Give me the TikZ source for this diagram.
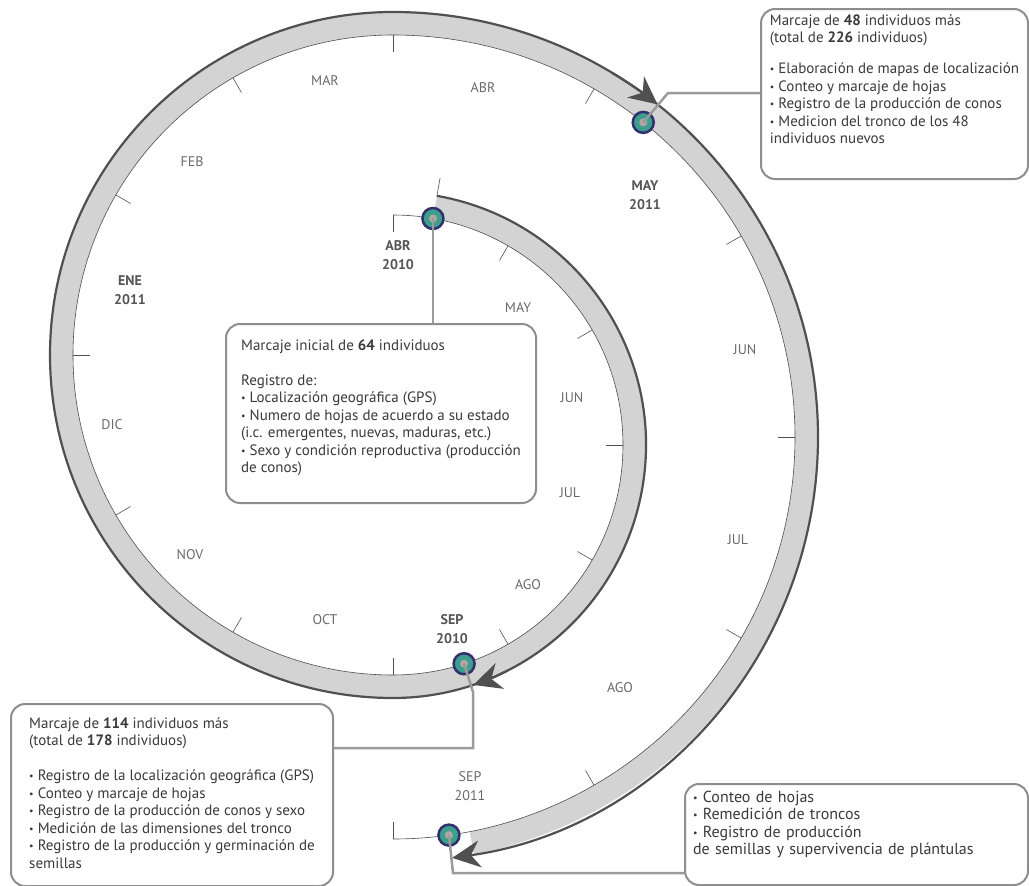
\documentclass[tikz,border=0pt]{standalone}
\usepackage{fontspec}
\setmainfont{PT Sans}
\usetikzlibrary{calc,arrows.meta}
\definecolor{bandgris}{HTML}{D3D3D3}
\definecolor{bordeosc}{HTML}{505050}
\definecolor{lineagris}{HTML}{9B9B9B}
\definecolor{marcogris}{HTML}{8E8E8E}
\definecolor{textogris}{HTML}{3A3A3A}
\definecolor{mesgris}{HTML}{6A6A6A}
\definecolor{mesfuerte}{HTML}{555555}
\definecolor{anillo}{HTML}{33306E}
\definecolor{verdeazul}{HTML}{3E9E8E}
\definecolor{centro}{HTML}{B3A6A6}
\newcommand{\bul}{\raisebox{0.9pt}{\fontsize{10}{10}\selectfont\textbullet}\ }
\newcommand{\arriba}[1]{\rule{0pt}{#1pt}}
\newcommand{\abajo}[1]{\rule[-#1pt]{0pt}{#1pt}}
\begin{document}
\begin{tikzpicture}[x=1pt,y=1pt,
every node/.style={font=\fontsize{14}{17.5}\selectfont},
banda/.style={fill=bandgris},
bordeint/.style={draw=bordeosc,line width=0.6pt},
marca/.style={draw=bordeosc,line width=0.6pt},
punta/.style={draw=bordeosc,line width=2.2pt,-{Stealth[length=28pt,width=27pt,inset=9pt]}},
evento/.style={circle,draw=anillo,line width=2.5pt,fill=verdeazul,minimum size=21pt,inner sep=0pt,path picture={\fill[centro] (path picture bounding box.center) circle (4pt);}},
enlace/.style={draw=lineagris,line width=2.5pt},
caja/.style={draw=marcogris,line width=2pt,rounded corners=14pt,fill=white,align=left,text=textogris,inner xsep=8pt,inner ysep=5pt,anchor=north west,font=\fontsize{15}{17.5}\selectfont},
mes/.style={text=mesgris},
mesb/.style={text=mesfuerte,font=\fontsize{14}{18.5}\selectfont\bfseries,align=center}]
\useasboundingbox (0,0) rectangle (1029,-886);
\coordinate (A) at (393,-445);
\coordinate (B) at (393,-355);
\coordinate (C) at (393,-437);

\fill[banda] ($(A)+(80:253)$) arc[start angle=80,end angle=-90,radius=253] arc[start angle=-90,end angle=-270,radius=343] arc[start angle=90,end angle=-79,radius=425] -- ($(C)+(-79:402)$) arc[start angle=-79,end angle=90,radius=402] arc[start angle=90,end angle=270,radius=320] arc[start angle=-90,end angle=80,radius=230] -- cycle;

\draw[bordeint] ($(C)+(-90:402)$) arc[start angle=-90,end angle=90,radius=402] arc[start angle=90,end angle=270,radius=320] arc[start angle=-90,end angle=90,radius=230];

\draw[marca] ($(A)+(90:230)$) -- ($(A)+(90:213)$);
\draw[marca] ($(A)+(60:230)$) -- ($(A)+(60:213)$);
\draw[marca] ($(A)+(30:230)$) -- ($(A)+(30:213)$);
\draw[marca] ($(A)+(0:230)$) -- ($(A)+(0:213)$);
\draw[marca] ($(A)+(-30:230)$) -- ($(A)+(-30:213)$);
\draw[marca] ($(A)+(-60:230)$) -- ($(A)+(-60:213)$);
\draw[marca] ($(A)+(-90:230)$) -- ($(A)+(-90:213)$);
\draw[marca] ($(B)+(90:320)$) -- ($(B)+(90:303)$);
\draw[marca] ($(B)+(120:320)$) -- ($(B)+(120:303)$);
\draw[marca] ($(B)+(150:320)$) -- ($(B)+(150:303)$);
\draw[marca] ($(B)+(180:320)$) -- ($(B)+(180:303)$);
\draw[marca] ($(B)+(210:320)$) -- ($(B)+(210:303)$);
\draw[marca] ($(B)+(240:320)$) -- ($(B)+(240:303)$);
\draw[marca] ($(C)+(60:402)$) -- ($(C)+(60:385)$);
\draw[marca] ($(C)+(30:402)$) -- ($(C)+(30:385)$);
\draw[marca] ($(C)+(0:402)$) -- ($(C)+(0:385)$);
\draw[marca] ($(C)+(-30:402)$) -- ($(C)+(-30:385)$);
\draw[marca] ($(C)+(-60:402)$) -- ($(C)+(-60:385)$);
\draw[marca] ($(C)+(-90:402)$) -- ($(C)+(-90:385)$);
\draw[marca] ($(A)+(80:253)$) -- ($(A)+(80:271)$);

\draw[punta] ($(A)+(80:253)$) arc[start angle=80,end angle=-90,radius=253] arc[start angle=-90,end angle=-270,radius=343] arc[start angle=90,end angle=-82,radius=425];
\draw[punta] ($(A)+(-63:253)$) arc[start angle=-63,end angle=-71.5,radius=253];
\draw[punta] ($(C)+(59:425)$) arc[start angle=59,end angle=51.5,radius=425];

\node[evento] (dabr) at ($(A)+(80:230)$) {};
\node[evento] (dsep) at ($(A)+(-72:230)$) {};
\node[evento] (dmay) at ($(C)+(51.5:402)$) {};
\node[evento] (dsepb) at ($(C)+(-82:402)$) {};

\node[caja,minimum width=267pt,minimum height=170pt] (cmay) at (760,-8) {\arriba{11}Marcaje de \textbf{48} individuos más\\(total de \textbf{226} individuos)\\[13.5pt]\bul Elaboración de mapas de localización\\\bul Conteo y marcaje de hojas\\\bul Registro de la producción de conos\\\bul Medicion del tronco de los 48\\individuos nuevos\abajo{30}};
\node[caja,minimum width=310pt,minimum height=179pt] (cabr) at (225,-323) {\arriba{21}Marcaje inicial de \textbf{64} individuos\\[17.5pt]Registro de:\\\bul Localización geográfica (GPS)\\\bul Numero de hojas de acuerdo a su estado\\(i.c. emergentes, nuevas, maduras, etc.)\\\bul Sexo y condición reproductiva (producción\\de conos)\abajo{25}};
\node[caja,minimum width=322pt,minimum height=182pt] (csep) at (10,-703) {\arriba{19}Marcaje de \textbf{114} individuos más\\(total de \textbf{178} individuos)\\[17.5pt]\bul Registro de la localización geográfica (GPS)\\\bul Conteo y marcaje de hojas\\\bul Registro de la producción de conos y sexo\\\bul Medición de las dimensiones del tronco\\\bul Registro de la producción y germinación de\\semillas\abajo{13}};
\node[caja,text width=327pt,minimum height=101pt,font=\fontsize{16}{17.5}\selectfont] (csepb) at (684,-783) {\arriba{13}\bul Conteo de hojas\\\bul Remedición de troncos\\\bul Registro de producción\\de semillas y supervivencia de plántulas\abajo{25}};

\coordinate (kmay) at (668,-93);
\coordinate (ksep1) at (473,-692);
\coordinate (ksep2) at (473,-748);
\coordinate (ksepb) at (453,-873);
\draw[enlace] (dmay.center) -- (kmay) -- (kmay -| cmay.west);
\draw[enlace] (dabr.center) -- (dabr.center |- cabr.north);
\draw[enlace] (dsep.center) -- (ksep1) -- (ksep2) -- (ksep2 -| csep.east);
\draw[enlace] (dsepb.center) -- (ksepb) -- (ksepb -| csepb.west);

\node[mes] at (325,-81) {MAR};
\node[mes] at (483,-88) {ABR};
\node[mes] at (192,-162) {FEB};
\node[mesb] at (130,-290) {ENE\\2011};
\node[mes] at (112,-425) {DIC};
\node[mes] at (190,-555) {NOV};
\node[mes] at (325,-620) {OCT};
\node[mesb] at (452,-629) {SEP\\2010};
\node[mes] at (528,-585) {AGO};
\node[mes] at (570,-493) {JUL};
\node[mes] at (572,-398) {JUN};
\node[mes] at (518,-308) {MAY};
\node[mesb] at (398,-255) {ABR\\2010};
\node[mesb] at (645,-195) {MAY\\2011};
\node[mes] at (745,-350) {JUN};
\node[mes] at (738,-540) {JUL};
\node[mes] at (620,-688) {AGO};
\node[mes,align=center,font=\fontsize{14}{18.5}\selectfont] at (470,-786) {SEP\\2011};
\end{tikzpicture}
\end{document}
